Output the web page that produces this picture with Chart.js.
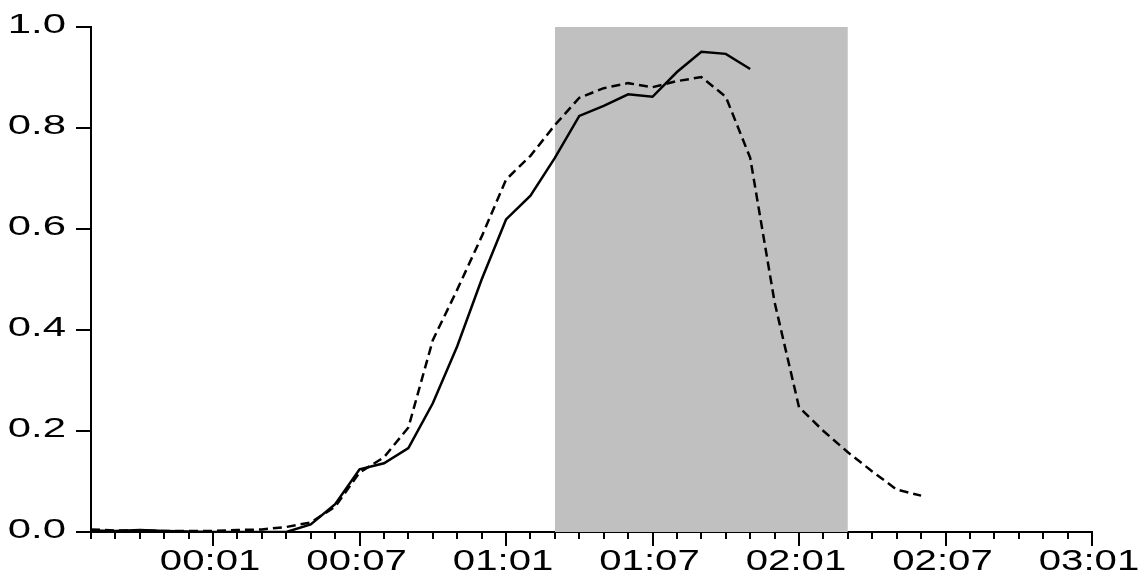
<!DOCTYPE html>
<html>
<head>
<meta charset="utf-8">
<script src="https://cdn.jsdelivr.net/npm/chart.js@4/dist/chart.umd.min.js"></script>
<style>
  html, body { margin: 0; padding: 0; background: #ffffff; }
  #wrap { width: 1146px; height: 578px; position: relative; }
</style>
</head>
<body>
<div id="wrap"><canvas id="c"></canvas></div>
<script>
// ---- data (x = tick index, one point per minor tick) ----
const solidValues = [0.003, 0.002, 0.004, 0.002, 0.001, 0.000, 0.000, 0.000, 0.000, 0.015,
                     0.055, 0.124, 0.136, 0.166, 0.255, 0.368, 0.500, 0.619, 0.666, 0.741,
                     0.824, 0.844, 0.867, 0.862, 0.911, 0.951, 0.947, 0.917];
const dashedValues = [0.005, 0.003, 0.003, 0.002, 0.002, 0.002, 0.004, 0.005, 0.010, 0.019,
                      0.050, 0.118, 0.148, 0.207, 0.380, 0.480, 0.585, 0.698, 0.745, 0.806,
                      0.860, 0.879, 0.889, 0.881, 0.893, 0.901, 0.862, 0.741, 0.455, 0.247,
                      0.200, 0.158, 0.120, 0.084, 0.072];
const xTickPositions = [5, 11, 17, 23, 29, 35, 41];
const xTickLabels = ['00:01', '00:07', '01:01', '01:07', '02:01', '02:07', '03:01'];
const xMin = 0, xMax = 41;
const yMin = 0, yMax = 1, yStep = 0.2;
const bandStart = 19, bandEnd = 31, bandTop = 1;

const toPoints = (vals) => vals.map((v, i) => ({ x: i, y: v }));
const minorTicks = [];
for (let i = xMin; i <= xMax; i++) minorTicks.push(i);

// ---- wide text rendering (labels in the reference are horizontally stretched) ----
const X_FONT_SIZE = 29, Y_FONT_SIZE = 28.5;
const STRETCH_BY_SIZE = { 29: 1.385, 28.5: 1.47 };
const canvas = document.getElementById('c');
const ctx = canvas.getContext('2d');
const nativeFill = CanvasRenderingContext2D.prototype.fillText;
const nativeMeasure = CanvasRenderingContext2D.prototype.measureText;
function stretchFor(c) {
  const m = /([\d.]+)px/.exec(c.font);
  const s = m ? STRETCH_BY_SIZE[parseFloat(m[1])] : undefined;
  return s || 1.43;
}
ctx.fillText = function (text, x, y, maxWidth) {
  const k = stretchFor(this);
  this.save();
  this.translate(x, y);
  this.scale(k, 1);
  if (maxWidth === undefined) nativeFill.call(this, text, 0, 0);
  else nativeFill.call(this, text, 0, 0, maxWidth / k);
  this.restore();
};
ctx.measureText = function (text) {
  const k = stretchFor(this);
  const m = nativeMeasure.call(this, text);
  return {
    width: m.width * k,
    actualBoundingBoxAscent: m.actualBoundingBoxAscent,
    actualBoundingBoxDescent: m.actualBoundingBoxDescent,
    actualBoundingBoxLeft: m.actualBoundingBoxLeft * k,
    actualBoundingBoxRight: m.actualBoundingBoxRight * k
  };
};

const fontFamily = "'Liberation Sans', Arial, Helvetica, sans-serif";

new Chart(canvas, {
  type: 'line',
  data: {
    datasets: [
      {
        label: 'solid',
        data: toPoints(solidValues),
        borderColor: '#000000',
        borderWidth: 2.5,
        pointRadius: 0,
        tension: 0,
        fill: false
      },
      {
        label: 'dashed',
        data: toPoints(dashedValues),
        borderColor: '#000000',
        borderWidth: 2.5,
        borderDash: [9, 5],
        pointRadius: 0,
        tension: 0,
        fill: false
      },
      {
        label: 'band',
        data: [{ x: bandStart, y: bandTop }, { x: bandEnd, y: bandTop }],
        borderWidth: 0,
        borderColor: 'rgba(0,0,0,0)',
        backgroundColor: '#c0c0c0',
        pointRadius: 0,
        fill: 'origin'
      }
    ]
  },
  options: {
    responsive: true,
    maintainAspectRatio: false,
    animation: false,
    events: [],
    layout: { padding: { left: 0, top: 26, right: 54, bottom: 46 } },
    plugins: { legend: { display: false }, tooltip: { enabled: false } },
    scales: {
      x: {
        type: 'linear',
        position: { y: 0 },
        min: xMin,
        max: xMax,
        afterBuildTicks: (s) => { s.ticks = xTickPositions.map(v => ({ value: v })); },
        ticks: {
          autoSkip: false,
          maxRotation: 0,
          minRotation: 0,
          padding: 0,
          labelOffset: -3,
          color: '#000000',
          font: { family: fontFamily, size: X_FONT_SIZE },
          callback: (v) => xTickLabels[xTickPositions.indexOf(v)]
        },
        grid: { drawOnChartArea: false, drawTicks: true, tickLength: 13, color: '#000000', lineWidth: 2 },
        border: { display: true, color: '#000000', width: 2 }
      },
      xMinor: {
        type: 'linear',
        axis: 'x',
        position: { y: 0 },
        min: xMin,
        max: xMax,
        afterBuildTicks: (s) => { s.ticks = minorTicks.map(v => ({ value: v })); },
        ticks: { display: false },
        grid: { drawOnChartArea: false, drawTicks: true, tickLength: 7, color: '#000000', lineWidth: 2 },
        border: { display: false }
      },
      y: {
        type: 'linear',
        position: 'left',
        min: yMin,
        max: yMax,
        afterFit: (s) => { s.width = 91; },
        ticks: {
          stepSize: yStep,
          padding: 10,
          labelOffset: -2,
          color: '#000000',
          font: { family: fontFamily, size: Y_FONT_SIZE },
          callback: (v) => Number(v).toFixed(1)
        },
        grid: { drawOnChartArea: false, drawTicks: true, tickLength: 15, color: '#000000', lineWidth: 2 },
        border: { display: true, color: '#000000', width: 2 }
      }
    }
  }
});
</script>
</body>
</html>
